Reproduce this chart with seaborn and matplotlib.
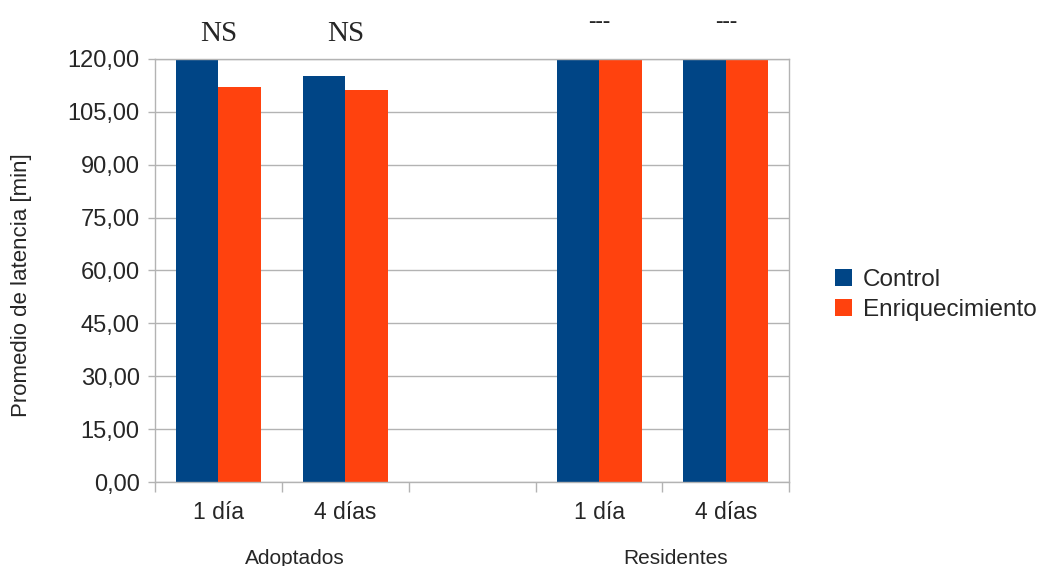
"""Latency bar chart: Control vs Enriquecimiento, Adoptados / Residentes."""
import matplotlib
matplotlib.use("Agg")
import matplotlib.pyplot as plt
import matplotlib.ticker as mticker
import pandas as pd
import seaborn as sns

GROUPS = ["Adoptados", "Adoptados", "Residentes", "Residentes"]
DAYS = ["1 día", "4 días", "1 día", "4 días"]
CONTROL = [120.0, 115.2, 120.0, 120.0]
ENRIQ = [112.0, 111.2, 120.0, 120.0]
SIGNIF = ["NS", "NS", "---", "---"]
SERIES = ["Control", "Enriquecimiento"]
SLOT_ORDER = ["Adoptados|1 día", "Adoptados|4 días", "gap", "Residentes|1 día", "Residentes|4 días"]
YTICKS = [0, 15, 30, 45, 60, 75, 90, 105, 120]

PALETTE = {"Control": "#004586", "Enriquecimiento": "#ff420e"}
GRID = "#b3b3b3"

sns.set_style("white")
plt.rcParams["font.family"] = ["Liberation Sans", "DejaVu Sans"]

keys = [f"{g}|{d}" for g, d in zip(GROUPS, DAYS)]
df = pd.DataFrame({
    "slot": keys * 2,
    "serie": [SERIES[0]] * len(keys) + [SERIES[1]] * len(keys),
    "valor": CONTROL + ENRIQ,
})

fig = plt.figure(figsize=(10.4, 5.66), dpi=100)
ax = fig.add_axes([0.149, 0.1484, 0.61, 0.7474])

sns.barplot(
    data=df, x="slot", y="valor", hue="serie",
    order=SLOT_ORDER, hue_order=SERIES, palette=PALETTE,
    width=0.67, gap=0, saturation=1, linewidth=0, ax=ax,
)

ax.set_ylim(0, 120)
ax.set_xlim(-0.5, len(SLOT_ORDER) - 0.5)
ax.set_yticks(YTICKS)
ax.yaxis.set_major_formatter(mticker.FuncFormatter(lambda v, _: f"{v:.2f}".replace(".", ",")))
ax.grid(axis="y", color=GRID, linewidth=1)
ax.set_axisbelow(True)
for s in ax.spines.values():
    s.set_visible(True)
    s.set_color(GRID)
    s.set_linewidth(1)

# boundary ticks below the axis, labels centred in each slot
ax.set_xticks([i - 0.5 for i in range(len(SLOT_ORDER) + 1)])
ax.set_xticklabels([])
ax.set_xticks(range(len(SLOT_ORDER)), minor=True)
ax.set_xticklabels([k.split("|")[1] if "|" in k else "" for k in SLOT_ORDER], minor=True)
ax.tick_params(axis="x", which="major", length=7, width=1, color=GRID, direction="out", bottom=True)
ax.tick_params(axis="x", which="minor", length=0, pad=14, labelsize=16.5)
ax.tick_params(axis="y", length=5, width=1, color=GRID, direction="out", left=True, labelsize=17, pad=6)

ax.set_xlabel("")
ax.set_ylabel("Promedio de latencia [min]", fontsize=16)
ax.yaxis.set_label_coords(-0.194, 0.465)

# group labels under the category labels
for g in dict.fromkeys(GROUPS):
    idx = [SLOT_ORDER.index(k) for k in keys if k.startswith(g + "|")]
    ax.text(sum(idx) / len(idx) + 0.1, -0.18, g, transform=ax.get_xaxis_transform(),
            ha="center", va="center", fontsize=15)

# significance marks above each pair
for k, txt in zip(keys, SIGNIF):
    x = SLOT_ORDER.index(k)
    off = 36 if txt == "---" else 25
    ax.annotate(txt, (x, 120), xytext=(0, off * 0.72), textcoords="offset points",
                ha="center", va="center", annotation_clip=False,
                fontsize=21 if txt == "NS" else 16,
                family=["Liberation Serif", "DejaVu Serif"])

handles, labels = ax.get_legend_handles_labels()
ax.legend_.remove()
fig.legend(handles, labels, loc="center left", bbox_to_anchor=(0.803, 0.479),
           frameon=False, fontsize=17.5, handlelength=0.7, handleheight=0.7,
           handletextpad=0.45, labelspacing=0.35, borderaxespad=0, borderpad=0)

fig.savefig("out.png", dpi=100)
